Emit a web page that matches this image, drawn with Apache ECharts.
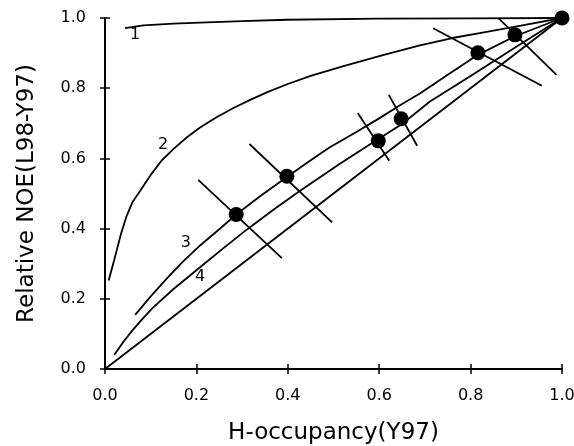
<!DOCTYPE html>
<html>
<head>
<meta charset="utf-8">
<script src="https://cdn.jsdelivr.net/npm/echarts@6/dist/echarts.min.js"></script>
<style>
  html, body { margin: 0; padding: 0; background: #fff; }
  #chart { width: 574px; height: 446px; }
</style>
</head>
<body>
<div id="chart"></div>
<script>
// values
const curve1 = [[0.044,0.971],[0.084,0.979],[0.15,0.984],[0.208,0.987],[0.3,0.991],[0.398,0.995],[0.6,0.998],[0.8,0.999],[1,1]];
const curve2 = [[0.008,0.252],[0.02,0.31],[0.035,0.385],[0.047,0.435],[0.06,0.475],[0.077,0.508],[0.10,0.553],[0.124,0.594],[0.15,0.627],[0.18,0.661],[0.208,0.688],[0.245,0.718],[0.28,0.743],[0.32,0.768],[0.354,0.788],[0.40,0.812],[0.45,0.835],[0.52,0.862],[0.602,0.892],[0.689,0.922],[0.76,0.943],[0.82,0.957],[0.91,0.978],[1,1]];
const curve3 = [[0.066,0.154],[0.10,0.207],[0.136,0.259],[0.17,0.305],[0.208,0.352],[0.25,0.398],[0.287,0.44],[0.34,0.493],[0.398,0.547],[0.45,0.595],[0.492,0.632],[0.55,0.675],[0.60,0.714],[0.65,0.755],[0.689,0.785],[0.75,0.838],[0.816,0.895],[0.897,0.948],[1,1]];
const curveMid = [[0.020,0.040],[0.04,0.077],[0.06,0.11],[0.08,0.14],[0.105,0.175],[0.15,0.228],[0.208,0.29],[0.26,0.345],[0.31,0.397],[0.37,0.455],[0.427,0.508],[0.514,0.585],[0.598,0.655],[0.65,0.698],[0.711,0.762],[0.80,0.835],[0.90,0.918],[1,1]];
const curve4 = [[0,0],[1,1]];

const points = [[0.287,0.44],[0.398,0.549],[0.598,0.65],[0.648,0.713],[0.816,0.901],[0.897,0.952],[1,1]];

const crossSegs = [
  [[0.204,0.539],[0.387,0.316]],
  [[0.316,0.641],[0.497,0.418]],
  [[0.553,0.729],[0.622,0.593]],
  [[0.621,0.781],[0.683,0.636]],
  [[0.718,0.971],[0.956,0.807]],
  [[0.862,0.998],[0.988,0.838]]
];

const curveLabels = [[0.066,0.952,'1'],[0.127,0.639,'2'],[0.177,0.36,'3'],[0.208,0.263,'4']];

const FONT = 'DejaVu Sans';

var chart = echarts.init(document.getElementById('chart'), null, { renderer: 'canvas' });

function lineSeries(data) {
  return {
    type: 'line',
    data: data,
    showSymbol: false,
    symbol: 'none',
    smooth: false,
    silent: true,
    lineStyle: { color: '#000', width: 1.8 }
  };
}

function axisBase(pos, showLabel) {
  return {
    type: 'value',
    position: pos,
    min: 0,
    max: 1,
    interval: 0.2,
    axisLine: { show: true, lineStyle: { color: '#000', width: 2 } },
    axisTick: { show: true, inside: false, length: 5, lineStyle: { color: '#000', width: 1.5 } },
    splitLine: { show: false },
    axisLabel: {
      show: showLabel,
      color: '#000',
      fontFamily: FONT,
      fontSize: 16,
      margin: 19,
      formatter: function (v) { return v.toFixed(1); }
    }
  };
}

var series = [];
[curve1, curve2, curve3, curveMid, curve4].forEach(function (c) {
  series.push(lineSeries(c));
});
crossSegs.forEach(function (s) {
  series.push(lineSeries(s));
});
series.push({
  type: 'scatter',
  data: points,
  symbol: 'circle',
  symbolSize: 15,
  clip: false,
  itemStyle: { color: '#000', opacity: 1 },
  z: 5
});
series.push({
  type: 'scatter',
  data: curveLabels,
  symbolSize: 0,
  silent: true,
  itemStyle: { color: 'rgba(0,0,0,0)', opacity: 1 },
  label: {
    show: true,
    position: 'inside',
    color: '#000',
    fontFamily: FONT,
    fontSize: 16,
    formatter: function (p) { return p.data[2]; }
  }
});

var xMain = axisBase('bottom', true);
xMain.name = 'H-occupancy(Y97)';
xMain.nameLocation = 'middle';
xMain.nameGap = 53;
xMain.nameTextStyle = { color: '#000', fontFamily: FONT, fontSize: 23 };

var yMain = axisBase('left', true);
yMain.name = 'Relative NOE(L98-Y97)';
yMain.nameLocation = 'middle';
yMain.nameGap = 66;
yMain.nameTextStyle = { color: '#000', fontFamily: FONT, fontSize: 23 };

chart.setOption({
  animation: false,
  backgroundColor: '#fff',
  grid: { left: 105, right: 12, top: 18, bottom: 77, containLabel: false, outerBoundsMode: 'none' },
  xAxis: [xMain, axisBase('top', false)],
  yAxis: [yMain, axisBase('right', false)],
  series: series
});
</script>
</body>
</html>
